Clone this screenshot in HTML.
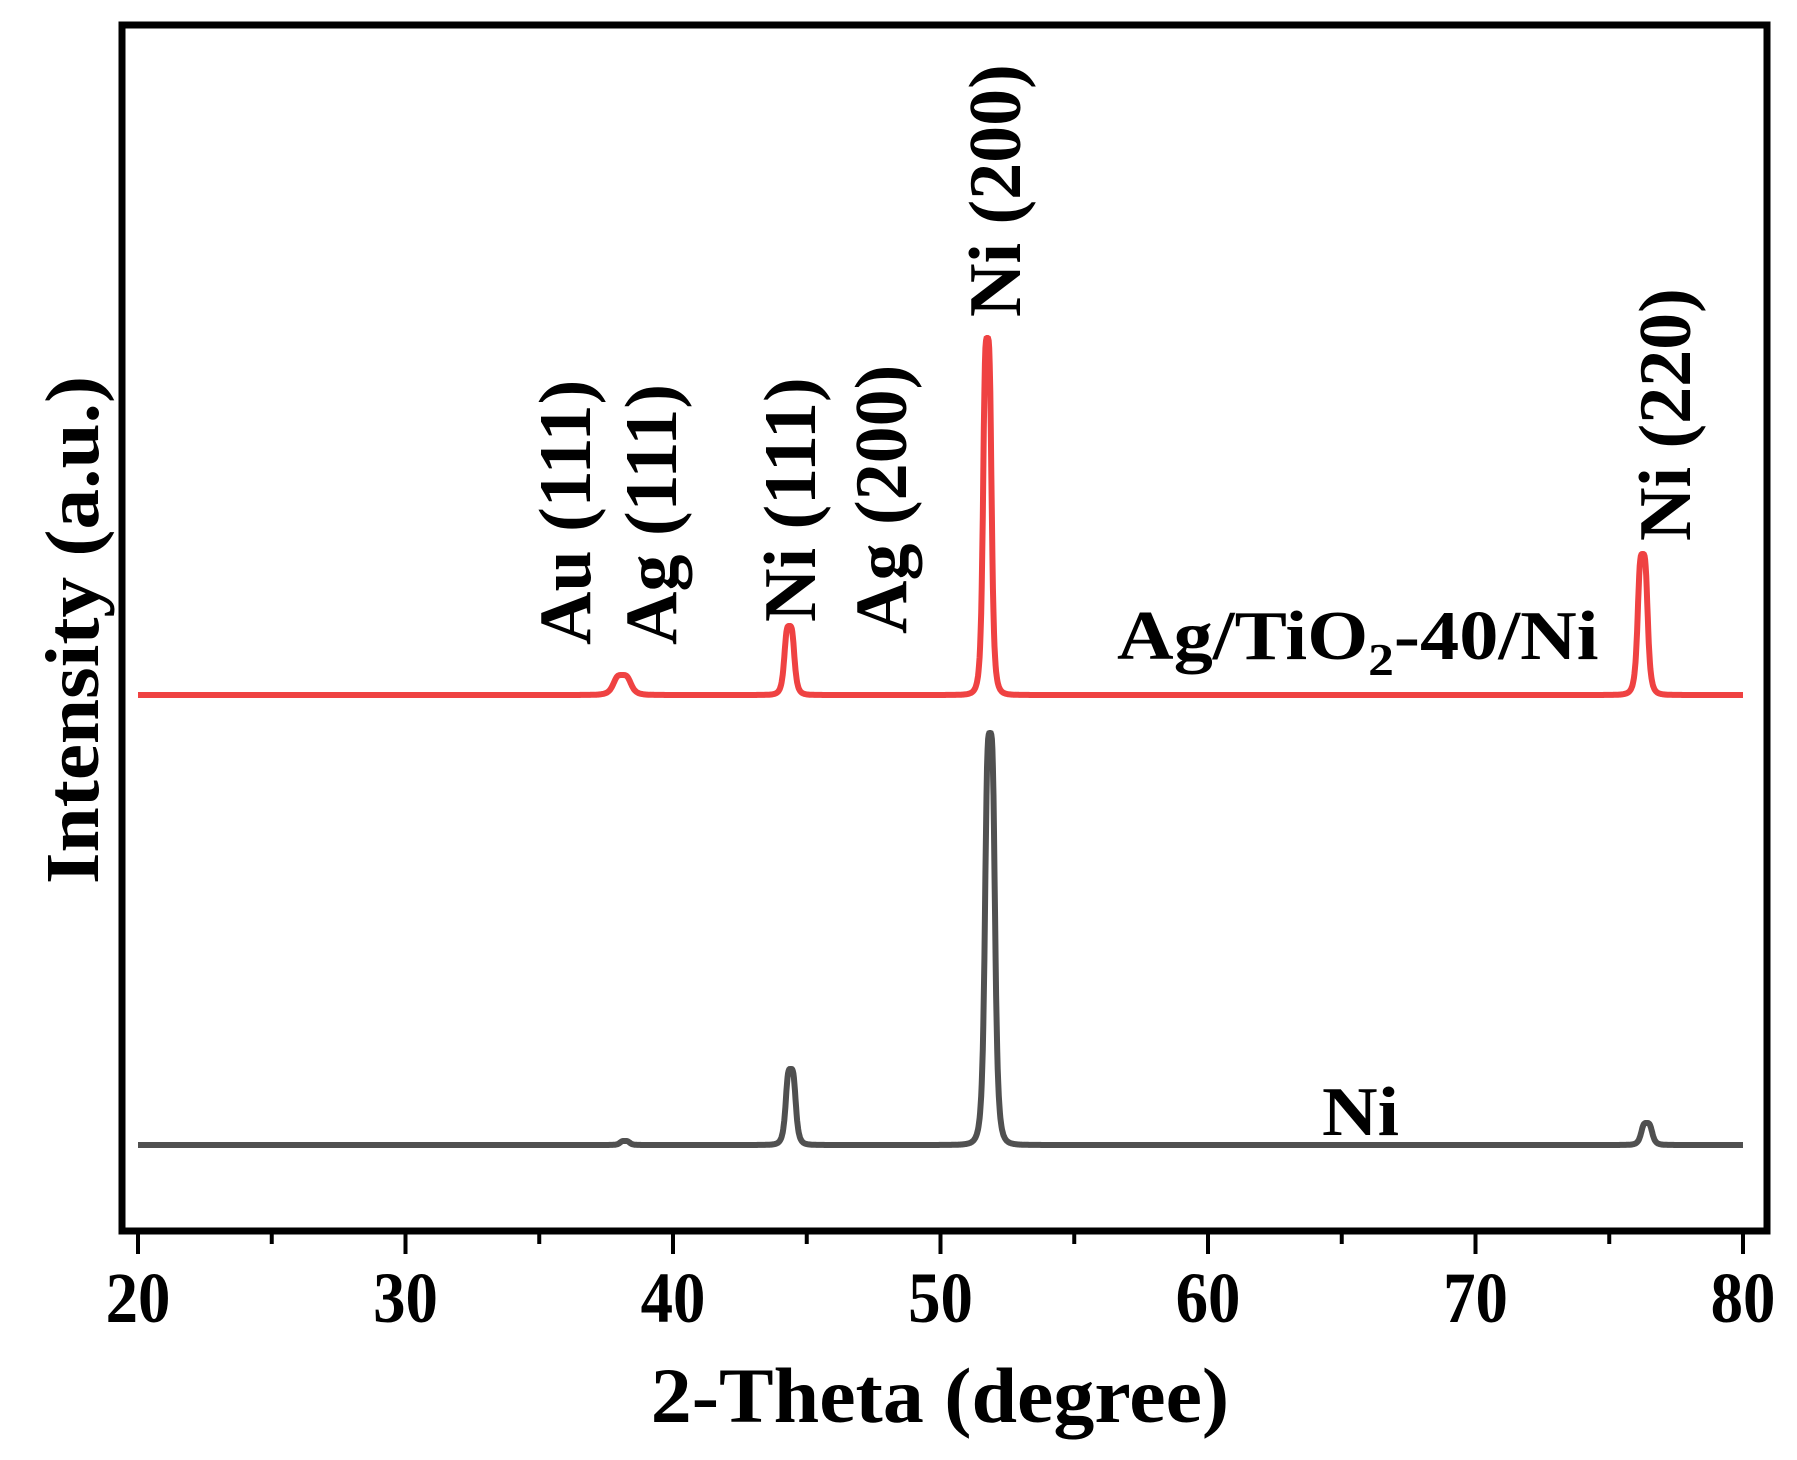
<!DOCTYPE html>
<html><head><meta charset="utf-8"><style>
body{margin:0;background:#fff}
text{font-family:"Liberation Serif",serif;font-weight:bold;fill:#000}
</style></head><body>
<svg id="chart" width="1797" height="1455" viewBox="0 0 1797 1455" xmlns="http://www.w3.org/2000/svg">
<rect x="122" y="25" width="1645" height="1206" fill="none" stroke="#000" stroke-width="7"/>
<g id="xaxis"></g>
<g id="series"></g>
<text transform="translate(940,1422) scale(1.05,1)" font-size="78" text-anchor="middle">2-Theta (degree)</text>
<text transform="translate(98,630) rotate(-90) scale(1.07,1)" font-size="76" text-anchor="middle">Intensity (a.u.)</text>
<g font-size="74">
<text transform="translate(590,645) rotate(-90)">Au (111)</text>
<text transform="translate(676,645) rotate(-90)">Ag (111)</text>
<text transform="translate(815,622) rotate(-90)">Ni (111)</text>
<text transform="translate(906,634) rotate(-90)">Ag (200)</text>
<text transform="translate(1020,317) rotate(-90)">Ni (200)</text>
<text transform="translate(1690,541) rotate(-90)">Ni (220)</text>
</g>
<text transform="translate(1117,659) scale(1.12,1)" font-size="70">Ag/TiO<tspan font-size="46" dy="16">2</tspan><tspan dy="-16">-40/Ni</tspan></text>
<text transform="translate(1322,1135) scale(1.1,1)" font-size="70">Ni</text>
</svg>
<script>
const xTicks=[20,30,40,50,60,70,80];
const minorTicks=[25,35,45,55,65,75];
const redPeakPos=[38.1,44.35,51.75,76.25];
const redPeakHeight=[20,69,357,141];
const redPeakWidth=[0.35,0.2,0.17,0.2];
const niPeakPos=[38.2,44.4,51.85,76.4];
const niPeakHeight=[4,76,412,22];
const niPeakWidth=[0.2,0.2,0.2,0.22];
const redOffset=450;
const X0=138,X1=1743,Y0=1145;
function xs(v){return X0+(v-20)*(X1-X0)/60;}
function ys(v){return Y0-v;}
const NS='http://www.w3.org/2000/svg';
const ax=document.getElementById('xaxis');
xTicks.forEach(t=>{
 const l=document.createElementNS(NS,'line');
 
 
 l.setAttribute('x1',xs(t));l.setAttribute('x2',xs(t));l.setAttribute('y1',1231);l.setAttribute('y2',1254);
 l.setAttribute('stroke','#000');l.setAttribute('stroke-width',4);ax.appendChild(l);
 const tx=document.createElementNS(NS,'text');
 
 
 tx.setAttribute('transform','translate('+xs(t)+',1322) scale(0.9,1)');
 tx.setAttribute('font-size',72);tx.setAttribute('text-anchor','middle');
 tx.textContent=t;ax.appendChild(tx);
});
minorTicks.forEach(t=>{
 const l=document.createElementNS(NS,'line');
 
 
 l.setAttribute('x1',xs(t));l.setAttribute('x2',xs(t));l.setAttribute('y1',1231);l.setAttribute('y2',1244);
 l.setAttribute('stroke','#000');l.setAttribute('stroke-width',4);ax.appendChild(l);
});
function curve(pos,h,w,off){
 let d='';
 for(let x=20;x<=80.001;x+=0.02){
  let y=off;
  for(let i=0;i<pos.length;i++){const u=(x-pos[i])/w[i];y+=h[i]/(1+u*u*u*u);}
  d+=(d?'L':'M')+xs(x).toFixed(1)+','+ys(y).toFixed(1);
 }
 return d;
}
const sg=document.getElementById('series');
const p1=document.createElementNS(NS,'path');


p1.setAttribute('d',curve(niPeakPos,niPeakHeight,niPeakWidth,0));
p1.setAttribute('fill','none');p1.setAttribute('stroke','#505050');p1.setAttribute('stroke-width',6);sg.appendChild(p1);
const p2=document.createElementNS(NS,'path');


p2.setAttribute('d',curve(redPeakPos,redPeakHeight,redPeakWidth,redOffset));
p2.setAttribute('fill','none');p2.setAttribute('stroke','#ef4242');p2.setAttribute('stroke-width',6);sg.appendChild(p2);
</script>
</body></html>
